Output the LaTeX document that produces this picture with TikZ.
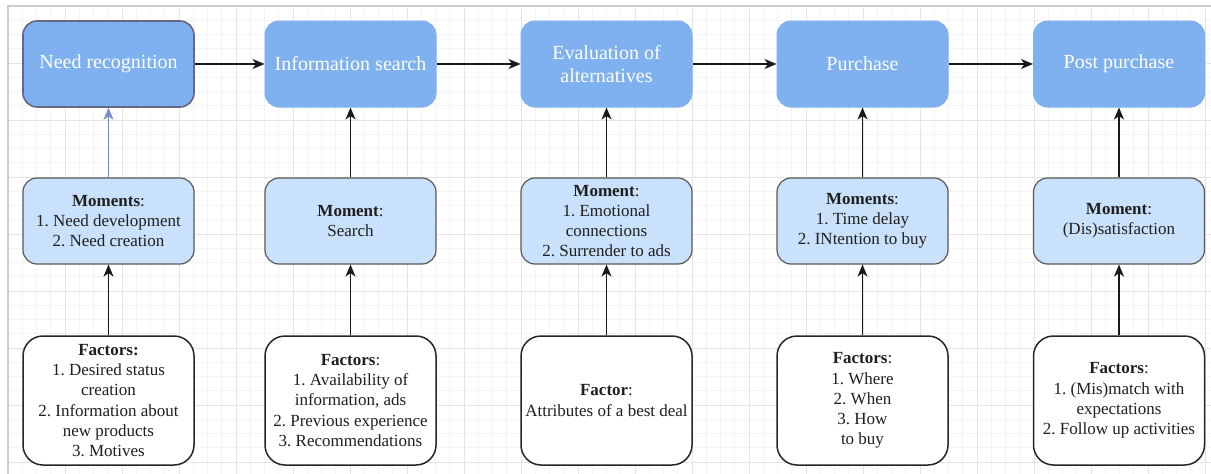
\documentclass[tikz,border=0pt]{standalone}
\usepackage{fontspec}
\setmainfont{Liberation Serif}
\usetikzlibrary{arrows.meta}
\frenchspacing
\definecolor{topfill}{RGB}{127,177,240}
\definecolor{midfill}{RGB}{201,225,251}
\definecolor{minorgrid}{RGB}{244,244,244}
\definecolor{majorgrid}{RGB}{228,228,228}
\definecolor{selblue}{RGB}{120,140,200}
\tikzset{
  topbox/.style={rectangle, rounded corners=14pt, fill=topfill, draw=topfill, line width=1pt,
    minimum width=171pt, minimum height=86pt, align=center, text=white,
    font=\fontsize{20}{23}\selectfont},
  midbox/.style={rectangle, rounded corners=14pt, fill=midfill, draw=black!65, line width=1.2pt,
    minimum width=171pt, minimum height=86pt, align=center, text=black!88,
    font=\fontsize{17}{19.8}\selectfont},
  botbox/.style={rectangle, rounded corners=20pt, fill=white, draw=black!85, line width=1.5pt,
    minimum width=171pt, minimum height=129pt, align=center, text=black!88,
    font=\fontsize{17}{20.2}\selectfont},
  arr/.style={-{Stealth[length=12pt,width=10pt,inset=3.5pt]}, line width=1.5pt, draw=black!90}
}
\begin{document}
\begin{tikzpicture}[x=1pt,y=-1pt]
\useasboundingbox (0,0) rectangle (1211,474);
\fill[white] (0,0) rectangle (1211,474);
% grid
\foreach \i in {0,...,84} {
  \draw[minorgrid, line width=0.6pt] ({8+14.25*\i},6) -- ({8+14.25*\i},474);
}
\foreach \j in {0,...,33} {
  \draw[minorgrid, line width=0.6pt] (8,{6+14.25*\j}) -- (1211,{6+14.25*\j});
}
\foreach \i in {0,...,21} {
  \draw[majorgrid, line width=0.8pt] ({8+57*\i},6) -- ({8+57*\i},474);
}
\foreach \j in {0,...,8} {
  \draw[majorgrid, line width=0.8pt] (8,{6+57*\j}) -- (1211,{6+57*\j});
}
\draw[black!20, line width=1.5pt] (8,474) -- (8,6) -- (1211,6);

% top row
\node[topbox, draw=black!80!blue!60, line width=1.6pt] (t1) at (108.5,64) {Need recognition};
\node[topbox] (t2) at (350.5,64) {Information search};
\node[topbox] (t3) at (606.5,64) {Evaluation of\\alternatives};
\node[topbox] (t4) at (862.5,64) {Purchase};
\node[topbox] (t5) at (1119,64) {Post purchase};

% middle row
\node[midbox] (m1) at (108.5,221) {\textbf{Moments}:\\1. Need development\\2. Need creation};
\node[midbox] (m2) at (350.5,221) {\textbf{Moment}:\\Search};
\node[midbox] (m3) at (606.5,221) {\textbf{Moment}:\\1. Emotional\\connections\\2. Surrender to ads};
\node[midbox] (m4) at (862.5,221) {\textbf{Moments}:\\1. Time delay\\2. INtention to buy};
\node[midbox] (m5) at (1119,221) {\textbf{Moment}:\\(Dis)satisfaction};

% bottom row
\node[botbox] (b1) at (108.5,400.5) {\textbf{Factors:}\\1. Desired status\\creation\\2. Information about\\new products\\3. Motives};
\node[botbox] (b2) at (350.5,400.5) {\textbf{Factors}:\\1. Availability of\\information, ads\\2. Previous experience\\3. Recommendations};
\node[botbox] (b3) at (606.5,400.5) {\textbf{Factor}:\\Attributes of a best deal};
\node[botbox] (b4) at (862.5,400.5) {\textbf{Factors}:\\1. Where\\2. When\\3. How\\to buy};
\node[botbox] (b5) at (1119,400.5) {\textbf{Factors}:\\1. (Mis)match with\\expectations\\2. Follow up activities};

% horizontal arrows
\draw[arr] (t1) -- (t2);
\draw[arr] (t2) -- (t3);
\draw[arr] (t3) -- (t4);
\draw[arr] (t4) -- (t5);

% vertical arrows
\draw[arr, draw=selblue, line width=1.2pt] (m1) -- (t1);
\draw[arr] (m2) -- (t2);
\draw[arr] (m3) -- (t3);
\draw[arr] (m4) -- (t4);
\draw[arr] (m5) -- (t5);
\draw[arr] (b1) -- (m1);
\draw[arr] (b2) -- (m2);
\draw[arr] (b3) -- (m3);
\draw[arr] (b4) -- (m4);
\draw[arr] (b5) -- (m5);
\end{tikzpicture}
\end{document}
